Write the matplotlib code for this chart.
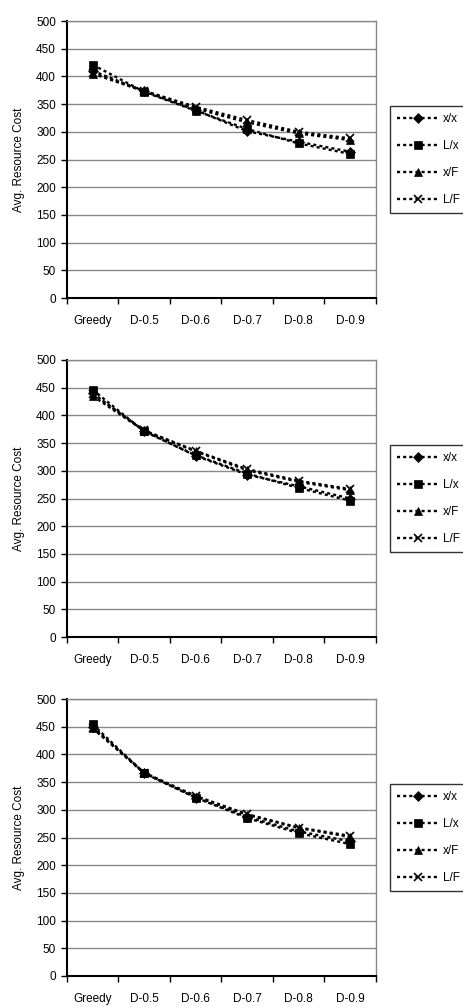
import numpy as np
import matplotlib.pyplot as plt

plt.rcParams['font.family'] = ['Liberation Sans', 'DejaVu Sans']

categories = ['Greedy', 'D-0.5', 'D-0.6', 'D-0.7', 'D-0.8', 'D-0.9']
series_names = ['x/x', 'L/x', 'x/F', 'L/F']

# panel 1
p1_xx = [410, 373, 339, 301, 282, 264]
p1_Lx = [421, 372, 338, 305, 279, 260]
p1_xF = [405, 373, 342, 317, 297, 285]
p1_LF = [406, 374, 345, 321, 300, 288]

# panel 2
p2_xx = [440, 372, 327, 293, 272, 250]
p2_Lx = [446, 371, 328, 295, 269, 246]
p2_xF = [435, 372, 335, 301, 280, 265]
p2_LF = [438, 373, 336, 303, 282, 267]

# panel 3
p3_xx = [450, 366, 322, 287, 261, 243]
p3_Lx = [454, 366, 322, 285, 258, 238]
p3_xF = [447, 366, 324, 291, 267, 251]
p3_LF = [448, 367, 325, 292, 268, 253]

panels = [
    [p1_xx, p1_Lx, p1_xF, p1_LF],
    [p2_xx, p2_Lx, p2_xF, p2_LF],
    [p3_xx, p3_Lx, p3_xF, p3_LF],
]
markers = ['D', 's', '^', 'x']
msizes = [5, 5.5, 6, 6]

W, H = 464, 1008
fig = plt.figure(figsize=(W / 100, H / 100), dpi=100)

tops = [21, 360, 699]
ph = 277
left, pw = 67, 309

x = np.arange(len(categories))
for top, data in zip(tops, panels):
    ax = fig.add_axes([left / W, 1 - (top + ph) / H, pw / W, ph / H])
    for vals, name, m, ms in zip(data, series_names, markers, msizes):
        ax.plot(x, vals, linestyle=(0, (1.3, 1.3)), color='black', lw=1.7,
                marker=m, markersize=ms, markeredgewidth=1.2 if m == 'x' else 0.5,
                label=name)
    ax.set_xlim(-0.5, 5.5)
    ax.set_ylim(0, 500)
    ax.set_yticks(np.arange(0, 501, 50))
    ax.yaxis.grid(True, color='#888888', lw=1)
    ax.set_axisbelow(True)
    ax.set_xticks(np.arange(-0.5, 6, 1))
    ax.set_xticklabels([])
    ax.set_xticks(x, minor=True)
    ax.set_xticklabels(categories, minor=True, fontsize=8.5)
    ax.tick_params(axis='x', which='minor', length=0, pad=12)
    ax.tick_params(axis='x', which='major', length=4, width=1, direction='out', color='black')
    ax.tick_params(axis='y', length=4, width=1, direction='out', labelsize=8.5, pad=4)
    for s in ['top', 'right']:
        ax.spines[s].set_color('#888888')
        ax.spines[s].set_linewidth(1)
    for s in ['left', 'bottom']:
        ax.spines[s].set_color('black')
        ax.spines[s].set_linewidth(1.5)
    ax.set_ylabel('Avg. Resource Cost', fontsize=8.5, labelpad=8)
    leg = ax.legend(loc='center left', bbox_to_anchor=(390 / W, 1 - (top + ph / 2) / H),
                    bbox_transform=fig.transFigure, fontsize=8.5, frameon=True,
                    fancybox=False, edgecolor='black', handlelength=3.6,
                    handletextpad=0.3, labelspacing=1.25, borderpad=0.6,
                    borderaxespad=0)
    leg.get_frame().set_linewidth(1)

fig.savefig('out.png', dpi=100)
